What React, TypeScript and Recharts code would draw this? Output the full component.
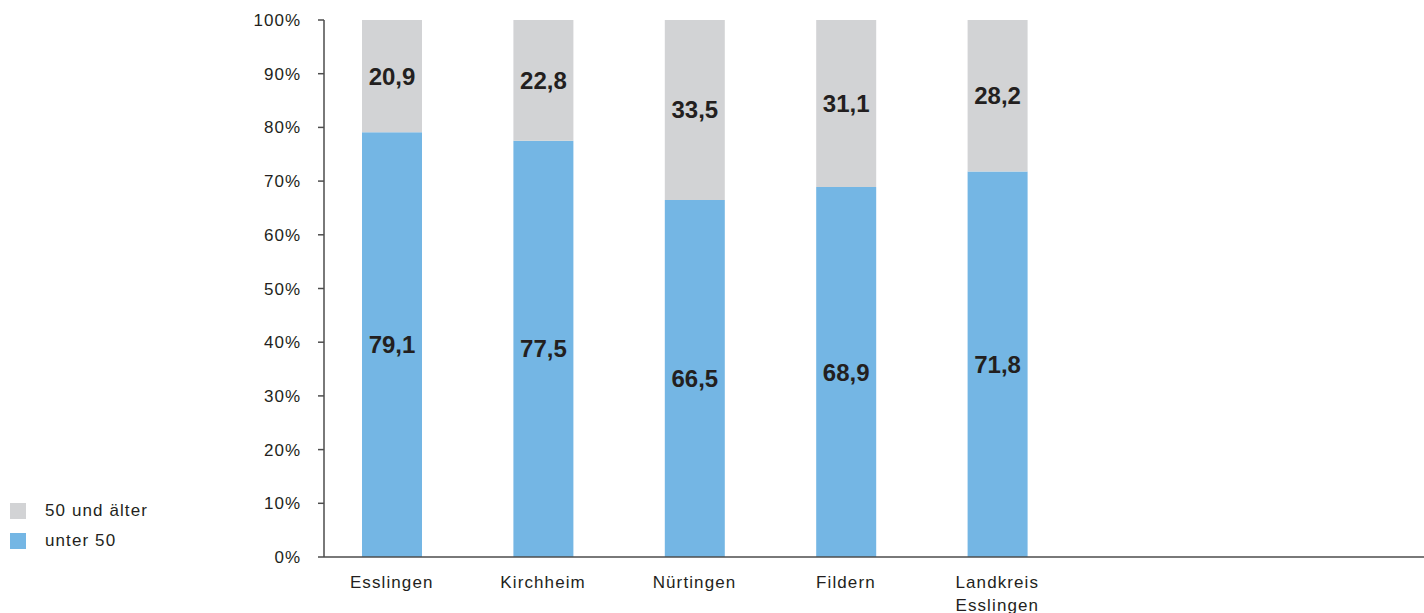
import React from "react";
import { BarChart, Bar, XAxis, YAxis, Legend, LabelList } from "recharts";

const categories = ["Esslingen", "Kirchheim", "Nürtingen", "Fildern", "Landkreis Esslingen"];
const under50 = [79.1, 77.5, 66.5, 68.9, 71.8];
const over50 = [20.9, 22.8, 33.5, 31.1, 28.2];
const yTicks = [0, 10, 20, 30, 40, 50, 60, 70, 80, 90, 100];
const seriesNames = { under: "unter 50", over: "50 und älter" };
const legendOrder = [seriesNames.over, seriesNames.under];

const data = categories.map((c, i) => ({ name: c, under: under50[i], over: over50[i] }));

const BLUE = "#74B6E4";
const GRAY = "#D2D3D5";
const TEXT = "#231F20";
const AXIS = "#4D4D4D";
const FONT = "'Liberation Sans', Arial, sans-serif";

const fmt = (v: number) => v.toFixed(1).replace(".", ",");

const XTick = (props: any) => {
  const { x, y, payload } = props;
  const words = String(payload.value).split(" ");
  return (
    <text x={x} y={y} textAnchor="middle" fill={TEXT} fontSize={17} fontFamily={FONT} letterSpacing={1.1}>
      {words.map((w, i) => (
        <tspan key={i} x={x} dy={i === 0 ? "0.71em" : 23}>
          {w}
        </tspan>
      ))}
    </text>
  );
};

const LegendContent = (props: any) => {
  const payload = props.payload || [];
  const items = legendOrder
    .map((n) => payload.find((p: any) => p.value === n))
    .filter(Boolean);
  return (
    <div style={{ fontFamily: FONT, fontSize: 17, color: TEXT, letterSpacing: 1.1 }}>
      {items.map((it: any, i: number) => (
        <div key={i} style={{ display: "flex", alignItems: "center", height: 30 }}>
          <span style={{ width: 16, height: 16, background: it.color, display: "inline-block", marginRight: 19 }} />
          <span>{it.value}</span>
        </div>
      ))}
    </div>
  );
};

export default function App() {
  return (
    <div style={{ position: "absolute", left: 0, top: 0, width: 1424, height: 613, background: "#fff" }}>
      <BarChart
        width={1424}
        height={613}
        data={data}
        margin={{ top: 20, right: 0, bottom: 0, left: 0 }}
        barSize={60}
      >
        <XAxis
          dataKey="name"
          height={56}
          axisLine={{ stroke: AXIS, strokeWidth: 1.5 }}
          tickLine={false}
          tickSize={0}
          tickMargin={19}
          tick={<XTick />}
          interval={0}
          padding={{ left: -8, right: 351 }}
        />
        <YAxis
          width={324}
          domain={[0, 100]}
          ticks={yTicks}
          allowDataOverflow
          tickFormatter={(v: number) => `${v}%`}
          axisLine={{ stroke: AXIS, strokeWidth: 1.5 }}
          tickLine={{ stroke: AXIS, strokeWidth: 1.5 }}
          tickSize={6}
          tickMargin={17}
          tick={{ fill: TEXT, fontSize: 17, fontFamily: FONT, letterSpacing: 1 }}
        />
        <Legend
          layout="vertical"
          align="center"
          verticalAlign="middle"
          content={<LegendContent />}
          wrapperStyle={{ left: 10, top: 496, width: 200 }}
        />
        <Bar dataKey="under" name={seriesNames.under} stackId="a" fill={BLUE} isAnimationActive={false}>
          <LabelList
            dataKey="under"
            position="center"
            formatter={(v: any) => fmt(Number(v))}
            fill={TEXT}
            fontSize={24}
            fontWeight="bold"
            fontFamily={FONT}
          />
        </Bar>
        <Bar dataKey="over" name={seriesNames.over} stackId="a" fill={GRAY} isAnimationActive={false}>
          <LabelList
            dataKey="over"
            position="center"
            formatter={(v: any) => fmt(Number(v))}
            fill={TEXT}
            fontSize={24}
            fontWeight="bold"
            fontFamily={FONT}
          />
        </Bar>
      </BarChart>
    </div>
  );
}
